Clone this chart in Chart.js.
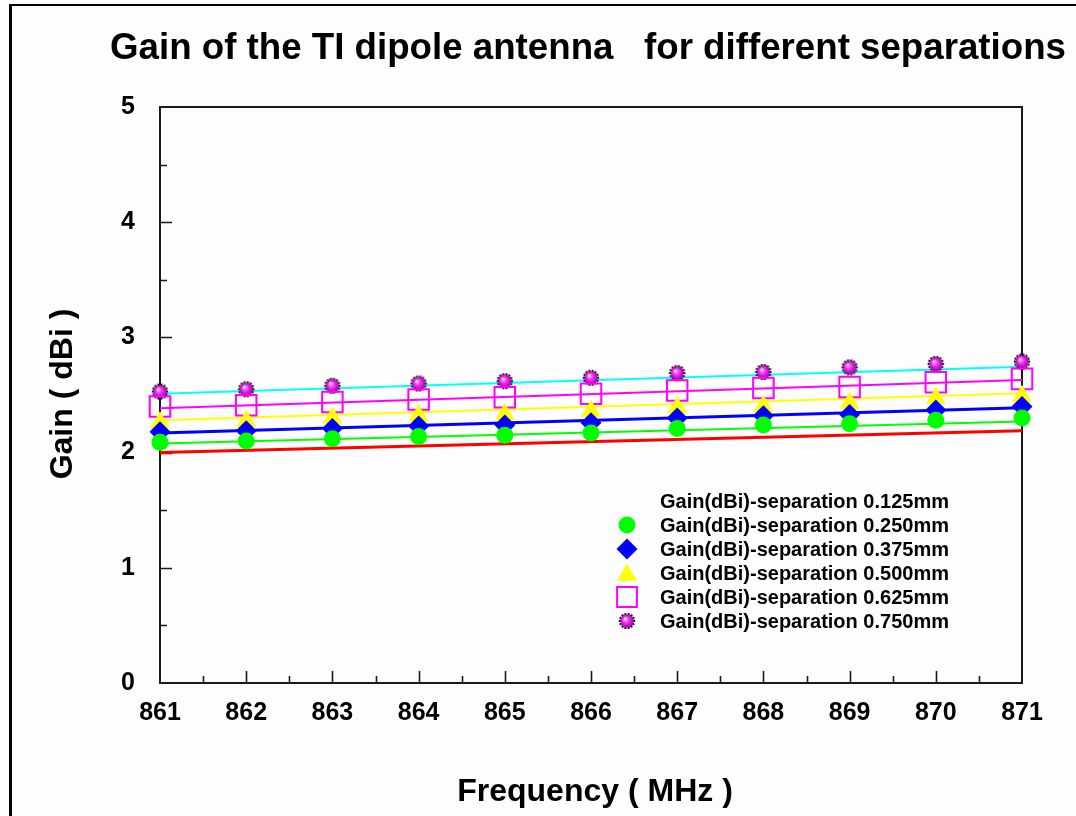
<!DOCTYPE html>
<html>
<head>
<meta charset="utf-8">
<title>Gain of the TI dipole antenna</title>
<script src="https://cdn.jsdelivr.net/npm/chart.js@4.4.1/dist/chart.umd.min.js"></script>
<style>
  html, body { margin: 0; padding: 0; background: #fdfdfd; }
  #wrap { position: relative; width: 1076px; height: 816px; overflow: hidden; }
  #frame { position: absolute; left: 9px; top: 4px; right: -10px; bottom: -10px;
           border-left: 3px solid #000; border-top: 2px solid #000; pointer-events: none; }
  canvas { position: absolute; left: 0; top: 0; }
</style>
</head>
<body>
<div id="wrap">
  <div id="frame"></div>
  <canvas id="gainChart" width="1076" height="816"></canvas>
</div>
<script>
// measured gain (dBi) per separation, one value per MHz
const freqMHz  = [861, 862, 863, 864, 865, 866, 867, 868, 869, 870, 871];
const gain0250 = [2.09, 2.10, 2.12, 2.14, 2.15, 2.17, 2.21, 2.24, 2.25, 2.28, 2.30];
const gain0375 = [2.18, 2.19, 2.21, 2.23, 2.24, 2.26, 2.30, 2.32, 2.33, 2.37, 2.40];
const gain0500 = [2.26, 2.27, 2.30, 2.32, 2.33, 2.36, 2.39, 2.40, 2.43, 2.47, 2.49];
const gain0625 = [2.40, 2.41, 2.44, 2.46, 2.48, 2.51, 2.54, 2.56, 2.57, 2.61, 2.64];
const gain0750 = [2.53, 2.55, 2.58, 2.60, 2.62, 2.65, 2.69, 2.70, 2.74, 2.77, 2.79];

// linear fit end points (861 and 871 MHz)
const fitFreq = [861, 871];
const fit0125 = [2.00, 2.19];
const fit0250 = [2.08, 2.27];
const fit0375 = [2.17, 2.39];
const fit0500 = [2.28, 2.515];
const fit0625 = [2.385, 2.63];
const fit0750 = [2.51, 2.745];

const legendLabels = [
  'Gain(dBi)-separation 0.125mm',
  'Gain(dBi)-separation 0.250mm',
  'Gain(dBi)-separation 0.375mm',
  'Gain(dBi)-separation 0.500mm',
  'Gain(dBi)-separation 0.625mm',
  'Gain(dBi)-separation 0.750mm'
];

const yTicks = [0, 1, 2, 3, 4, 5];
const xTicks = freqMHz;

const FONT = '"Liberation Sans", Arial, Helvetica, sans-serif';

// small shaded ball used for the 0.750mm markers
function makeSphere(r) {
  const s = Math.ceil(r * 2 + 5);
  const c = document.createElement('canvas');
  c.width = s; c.height = s;
  const g = c.getContext('2d');
  const m = s / 2;
  g.fillStyle = '#2b0b2b';
  for (let a = 0; a < Math.PI * 2; a += Math.PI / 7) {
    g.beginPath();
    g.arc(m + Math.cos(a) * (r + 0.6), m + Math.sin(a) * (r + 0.6), 1.2, 0, Math.PI * 2);
    g.fill();
  }
  const grad = g.createRadialGradient(m - r * 0.3, m - r * 0.35, 0.5, m, m, r);
  grad.addColorStop(0, '#ffe8ff');
  grad.addColorStop(0.35, '#ff40ff');
  grad.addColorStop(1, '#a000a8');
  g.fillStyle = grad;
  g.beginPath(); g.arc(m, m, r, 0, Math.PI * 2); g.fill();
  return c;
}
const sphere = makeSphere(6.5);

const markStyles = [
  null,
  { pointStyle: 'circle',   radius: 8.5, fill: '#00ff00', stroke: '#00ff00', borderWidth: 0 },
  { pointStyle: 'rectRot',  radius: 10.5, fill: '#0000ff', stroke: '#0000ff', borderWidth: 0 },
  { pointStyle: 'triangle', radius: 11.5, fill: '#ffff00', stroke: '#ffff00', borderWidth: 0 },
  { pointStyle: 'rect',     radius: 14.5, fill: 'rgba(0,0,0,0)', stroke: '#ff00ff', borderWidth: 2 },
  { pointStyle: sphere,     radius: 8,   fill: '#ff00ff', stroke: '#ff00ff', borderWidth: 0 }
];

function pts(xs, ys) { return xs.map((x, i) => ({ x: x, y: ys[i] })); }

function fitLine(vals, color, width) {
  return {
    data: pts(fitFreq, vals), showLine: true, borderColor: color, borderWidth: width,
    pointRadius: 0, order: 3, clip: false
  };
}

function markers(vals, st) {
  return {
    data: pts(freqMHz, vals), showLine: false, order: 1, clip: false,
    pointStyle: st.pointStyle, pointRadius: st.radius, pointHoverRadius: st.radius,
    pointBackgroundColor: st.fill, pointBorderColor: st.stroke, pointBorderWidth: st.borderWidth
  };
}

const datasets = [
  fitLine(fit0125, '#ff0000', 3),
  fitLine(fit0250, '#00ff00', 2),
  fitLine(fit0375, '#0000ff', 3),
  fitLine(fit0500, '#ffff00', 2),
  fitLine(fit0625, '#ff00ff', 2),
  fitLine(fit0750, '#00ffff', 2),
  markers(gain0250, markStyles[1]),
  markers(gain0375, markStyles[2]),
  markers(gain0500, markStyles[3]),
  markers(gain0625, markStyles[4]),
  markers(gain0750, markStyles[5])
];

// plot frame and inward ticks, drawn under the data
const framePlugin = {
  id: 'framePlugin',
  beforeDatasetsDraw(chart) {
    const { ctx, chartArea: a } = chart;
    const xs = chart.scales.x, ys = chart.scales.y;
    ctx.save();
    ctx.strokeStyle = '#1a1a1a';
    ctx.lineWidth = 2;
    ctx.strokeRect(a.left, a.top, a.right - a.left, a.bottom - a.top);
    ctx.lineWidth = 1.6;
    ctx.beginPath();
    for (let v = xTicks[0] + 0.5; v < xTicks[xTicks.length - 1]; v += 0.5) {
      const px = Math.round(xs.getPixelForValue(v)) + 0.5;
      const len = Number.isInteger(v) ? 12 : 7;
      ctx.moveTo(px, a.bottom); ctx.lineTo(px, a.bottom - len);
    }
    for (let v = yTicks[0] + 0.5; v < yTicks[yTicks.length - 1]; v += 0.5) {
      const py = Math.round(ys.getPixelForValue(v)) + 0.5;
      const len = Number.isInteger(v) ? 12 : 7;
      ctx.moveTo(a.left, py); ctx.lineTo(a.left + len, py);
    }
    ctx.stroke();
    ctx.restore();
  }
};

// title, axis titles and the in-plot legend
const textPlugin = {
  id: 'textPlugin',
  afterDraw(chart) {
    const ctx = chart.ctx;
    ctx.save();
    ctx.fillStyle = '#000';

    // the title is set in a tall, narrow face: squeeze it into its span
    const title = 'Gain of the TI dipole antenna   for different separations';
    ctx.font = 'bold 36px ' + FONT;
    ctx.textBaseline = 'alphabetic';
    ctx.textAlign = 'left';
    const tw = ctx.measureText(title).width;
    ctx.save();
    ctx.translate(110, 59);
    ctx.scale(956 / tw, 1);
    ctx.fillText(title, 0, 0);
    ctx.restore();

    ctx.font = 'bold 32px ' + FONT;
    ctx.textAlign = 'center';
    ctx.fillText('Frequency ( MHz )', 595, 801);

    ctx.save();
    ctx.translate(72, 394);
    ctx.rotate(-Math.PI / 2);
    ctx.fillText('Gain ( dBi )', 0, 0);
    ctx.restore();

    ctx.font = 'bold 20px ' + FONT;
    ctx.textAlign = 'left';
    ctx.textBaseline = 'middle';
    legendLabels.forEach((label, i) => {
      const y = 501 + i * 24;
      const st = markStyles[i];
      if (st) {
        ctx.fillStyle = st.fill;
        ctx.strokeStyle = st.stroke;
        ctx.lineWidth = st.borderWidth;
        const r = st.pointStyle === 'rect' ? 14 : st.radius;
        Chart.helpers.drawPoint(ctx, {
          pointStyle: st.pointStyle, radius: r, rotation: 0, borderWidth: st.borderWidth
        }, 627, st.pointStyle === 'triangle' ? y + 2 : y);
      }
      ctx.fillStyle = '#000';
      ctx.fillText(label, 660, y + 1);
    });
    ctx.restore();
  }
};

new Chart(document.getElementById('gainChart'), {
  type: 'scatter',
  data: { datasets: datasets },
  options: {
    responsive: false,
    devicePixelRatio: 1,
    animation: false,
    events: [],
    layout: { padding: { left: 0, top: 107, right: 54, bottom: 0 } },
    plugins: { legend: { display: false }, tooltip: { enabled: false }, title: { display: false } },
    scales: {
      x: {
        type: 'linear', min: xTicks[0], max: xTicks[xTicks.length - 1],
        grid: { display: false }, border: { display: false },
        afterFit(scale) { scale.height = 133; },
        afterBuildTicks(scale) { scale.ticks = xTicks.map(v => ({ value: v })); },
        ticks: {
          padding: 7, color: '#000', maxRotation: 0, autoSkip: false,
          font: { family: FONT, size: 25, weight: 'bold' },
          callback: v => String(v)
        }
      },
      y: {
        min: yTicks[0], max: yTicks[yTicks.length - 1],
        grid: { display: false }, border: { display: false },
        afterFit(scale) { scale.width = 160; },
        afterBuildTicks(scale) { scale.ticks = yTicks.map(v => ({ value: v })); },
        ticks: {
          padding: 17, color: '#000',
          font: { family: FONT, size: 25, weight: 'bold' },
          callback: v => String(v)
        }
      }
    }
  },
  plugins: [framePlugin, textPlugin]
});
</script>
</body>
</html>
